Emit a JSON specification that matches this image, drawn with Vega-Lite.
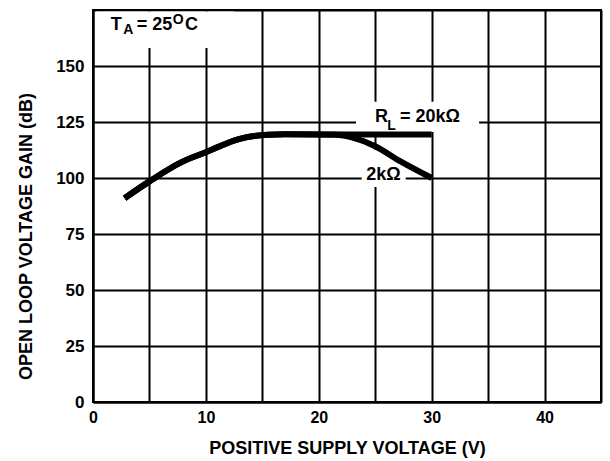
{
  "$schema": "https://vega.github.io/schema/vega-lite/v6.json",
  "width": 508,
  "height": 392,
  "autosize": {"type": "none"},
  "padding": {"left": 93, "top": 10, "right": 9, "bottom": 59},
  "background": "white",
  "config": {
    "view": {"stroke": "black", "strokeWidth": 2},
    "font": "Liberation Sans",
    "axis": {
      "grid": true,
      "gridColor": "black",
      "gridWidth": 2,
      "gridOpacity": 1,
      "domainColor": "black",
      "domainWidth": 2,
      "ticks": false,
      "labelFont": "Liberation Sans",
      "labelFontWeight": "bold",
      "labelColor": "black",
      "titleFont": "Liberation Sans",
      "titleFontWeight": "bold",
      "titleFontSize": 18,
      "titleColor": "black"
    }
  },
  "datasets": {
    "curves": [
      {"series": "20k", "x": 2.8, "y": 91},
      {"series": "20k", "x": 5, "y": 98.5},
      {"series": "20k", "x": 7.8, "y": 107},
      {"series": "20k", "x": 10, "y": 111.5},
      {"series": "20k", "x": 13, "y": 117.5},
      {"series": "20k", "x": 15.5, "y": 119.3},
      {"series": "20k", "x": 17, "y": 119.5},
      {"series": "20k", "x": 30, "y": 119.4},
      {"series": "2k", "x": 2.8, "y": 91},
      {"series": "2k", "x": 5, "y": 98.5},
      {"series": "2k", "x": 7.8, "y": 107},
      {"series": "2k", "x": 10, "y": 111.5},
      {"series": "2k", "x": 13, "y": 117.5},
      {"series": "2k", "x": 15.5, "y": 119.3},
      {"series": "2k", "x": 17, "y": 119.5},
      {"series": "2k", "x": 21.5, "y": 119.3},
      {"series": "2k", "x": 23, "y": 118},
      {"series": "2k", "x": 25, "y": 114.2},
      {"series": "2k", "x": 27.2, "y": 107.5},
      {"series": "2k", "x": 30, "y": 100}
    ],
    "boxes": [
      {"x": 0.3, "x2": 12.5, "y": 158, "y2": 174.3},
      {"x": 23.3, "x2": 34.2, "y": 120.5, "y2": 134},
      {"x": 23.8, "x2": 27.7, "y": 96, "y2": 112.5}
    ],
    "bigText": [
      {"x": 1.57, "y": 166.1, "label": "T"},
      {"x": 3.87, "y": 166.1, "label": "= 25"},
      {"x": 8.15, "y": 166.1, "label": "C"},
      {"x": 24.98, "y": 125.1, "label": "R"},
      {"x": 27.19, "y": 125.1, "label": "= 20kΩ"},
      {"x": 24.2, "y": 99.1, "label": "2kΩ"}
    ],
    "smallText": [
      {"x": 2.68, "y": 164.3, "label": "A"},
      {"x": 7.06, "y": 168.75, "label": "O"},
      {"x": 26.07, "y": 121.4, "label": "L"}
    ]
  },
  "layer": [
    {
      "data": {"name": "boxes"},
      "mark": {"type": "rect", "color": "white", "opacity": 1},
      "encoding": {
        "x": {
          "field": "x", "type": "quantitative",
          "scale": {"domain": [0, 45], "nice": false, "zero": false},
          "title": "POSITIVE SUPPLY VOLTAGE (V)",
          "axis": {
            "values": [0, 5, 10, 15, 20, 25, 30, 35, 40, 45],
            "labelExpr": "datum.value % 10 === 0 ? datum.label : ''",
            "labelFontSize": 16,
            "labelPadding": 7,
            "titlePadding": 14,
            "labelFlush": false
          }
        },
        "x2": {"field": "x2"},
        "y": {
          "field": "y", "type": "quantitative",
          "scale": {"domain": [0, 175], "nice": false, "zero": false},
          "title": "OPEN LOOP VOLTAGE GAIN (dB)",
          "axis": {
            "values": [0, 25, 50, 75, 100, 125, 150, 175],
            "labelExpr": "datum.value < 175 ? datum.label : ''",
            "labelFontSize": 17,
            "labelPadding": 9,
            "titlePadding": 20,
            "titleY": 226
          }
        },
        "y2": {"field": "y2"}
      }
    },
    {
      "data": {"name": "curves"},
      "mark": {"type": "line", "color": "black", "strokeWidth": 6, "interpolate": "monotone", "strokeCap": "butt"},
      "encoding": {
        "x": {"field": "x", "type": "quantitative", "scale": {"domain": [0, 45], "nice": false, "zero": false}},
        "y": {"field": "y", "type": "quantitative", "scale": {"domain": [0, 175], "nice": false, "zero": false}},
        "detail": {"field": "series"}
      }
    },
    {
      "data": {"name": "bigText"},
      "mark": {"type": "text", "align": "left", "baseline": "alphabetic", "font": "Liberation Sans", "fontWeight": "bold", "fontSize": 18, "color": "black"},
      "encoding": {
        "x": {"field": "x", "type": "quantitative", "scale": {"domain": [0, 45], "nice": false, "zero": false}},
        "y": {"field": "y", "type": "quantitative", "scale": {"domain": [0, 175], "nice": false, "zero": false}},
        "text": {"field": "label"}
      }
    },
    {
      "data": {"name": "smallText"},
      "mark": {"type": "text", "align": "left", "baseline": "alphabetic", "font": "Liberation Sans", "fontWeight": "bold", "fontSize": 14, "color": "black"},
      "encoding": {
        "x": {"field": "x", "type": "quantitative", "scale": {"domain": [0, 45], "nice": false, "zero": false}},
        "y": {"field": "y", "type": "quantitative", "scale": {"domain": [0, 175], "nice": false, "zero": false}},
        "text": {"field": "label"}
      }
    }
  ]
}
